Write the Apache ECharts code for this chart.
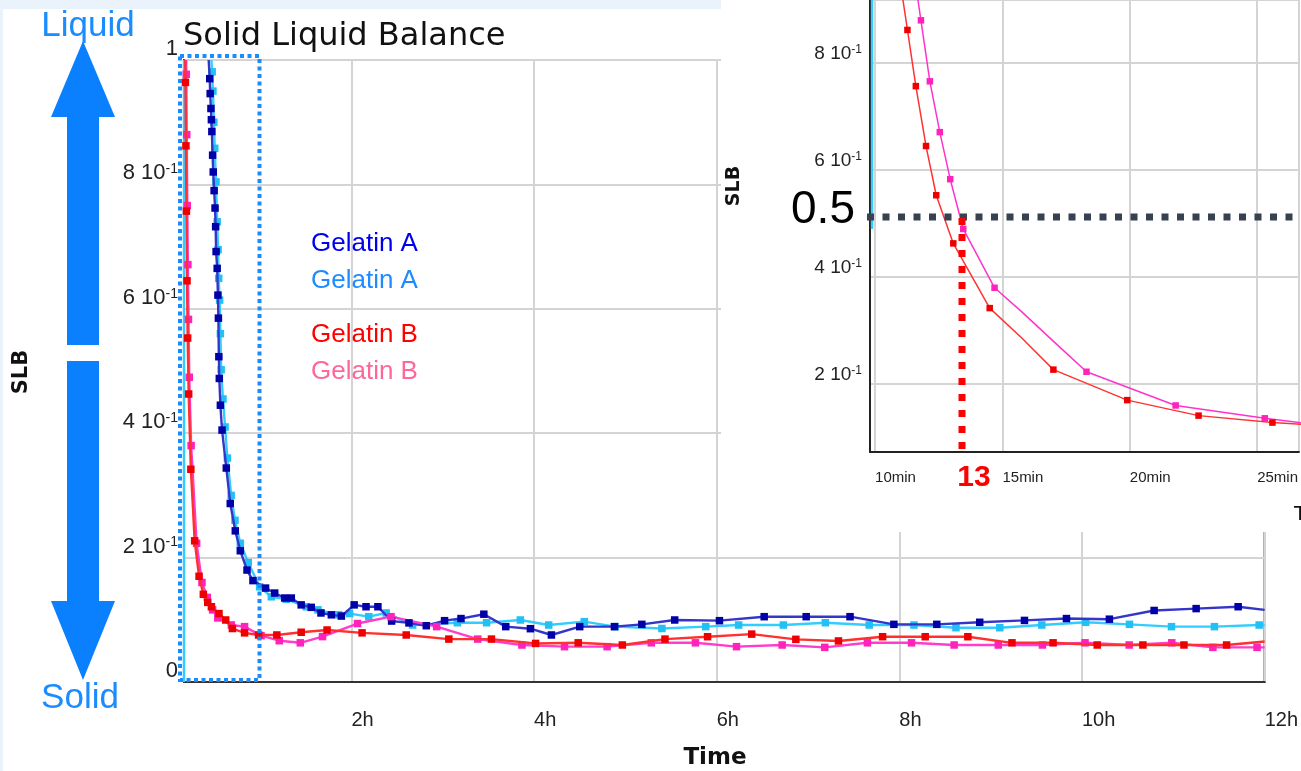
<!DOCTYPE html>
<html><head><meta charset="utf-8">
<script src="https://cdn.jsdelivr.net/npm/echarts@6/dist/echarts.min.js"></script>
<style>html,body{margin:0;padding:0;background:#fff}#c{width:1301px;height:771px}</style>
</head><body><div id="c"></div>
<script>
// ---- data: [time in minutes, SLB] ----
const gelatinA_dark = [[26.9,0.970],[27.2,0.946],[27.7,0.922],[28.0,0.904],[28.3,0.885],[28.8,0.847],[29.2,0.820],[29.8,0.790],[30.4,0.762],[30.8,0.732],[31.1,0.692],[31.8,0.665],[32.3,0.622],[32.6,0.585],[32.9,0.523],[33.2,0.488],[33.9,0.445],[35.0,0.405],[37.8,0.344],[40.4,0.287],[43.7,0.243],[47.0,0.211],[51.4,0.180],[55.3,0.163],[63.6,0.151],[69.6,0.143],[76.2,0.135],[80.5,0.135],[87,0.124],[93.6,0.120],[100,0.111],[106.8,0.108],[113.4,0.106],[121.8,0.124],[129.6,0.121],[137.4,0.121],[146.4,0.098],[157.8,0.095],[169.2,0.0905],[181.2,0.0986],[192,0.102],[207,0.109],[221.4,0.089],[237.6,0.0857],[251.4,0.0756],[270,0.089],[292.8,0.089],[310.8,0.0927],[332.4,0.0997],[361.8,0.0986],[391.2,0.105],[418.8,0.105],[447.6,0.105],[476.4,0.0927],[504.6,0.0927],[532.8,0.096],[562.2,0.099],[589.8,0.102],[618,0.101],[647.4,0.115],[675,0.118],[702.6,0.121]];
const gelatinA_light = [[28.5,0.981],[29.0,0.950],[29.6,0.900],[30.2,0.858],[31.0,0.804],[31.8,0.740],[32.4,0.695],[32.8,0.649],[33.4,0.614],[33.9,0.560],[34.4,0.502],[35.6,0.455],[37.0,0.410],[38.5,0.360],[41.0,0.300],[43.5,0.260],[47.0,0.223],[52.2,0.192],[59.7,0.153],[67.4,0.137],[77.2,0.133],[90.3,0.121],[98,0.116],[111.6,0.108],[118.8,0.110],[131.4,0.105],[142.8,0.111],[160.2,0.0916],[189.6,0.0953],[208.8,0.0953],[231,0.0997],[249.6,0.0916],[273,0.097],[293.4,0.089],[324,0.086],[352.8,0.089],[374.4,0.0916],[403.8,0.0916],[431.4,0.0953],[460.2,0.0916],[489.6,0.0916],[517.2,0.0873],[546,0.0873],[573.6,0.0916],[602.4,0.096],[631.2,0.0927],[658.8,0.089],[687,0.089],[716.4,0.0916]];
const gelatinB_red = [[10.95,0.964],[11.27,0.862],[11.6,0.757],[12.0,0.645],[12.4,0.553],[13.07,0.463],[14.5,0.342],[17.0,0.227],[19.9,0.170],[22.7,0.141],[25.6,0.128],[28.0,0.121],[33.0,0.110],[37.4,0.0997],[41.8,0.086],[49.8,0.079],[59,0.0756],[71,0.0756],[87,0.080],[104,0.0836],[127,0.079],[156,0.0756],[184,0.069],[212,0.069],[241,0.062],[269,0.063],[298,0.0595],[326,0.069],[354,0.0728],[383,0.077],[412,0.0686],[440,0.066],[469,0.0728],[497,0.0728],[525,0.0728],[554,0.063],[581,0.063],[610,0.0595],[640,0.0595],[667,0.0595],[695,0.0595]];
const gelatinB_pink = [[11.5,0.977],[11.8,0.880],[12.15,0.766],[12.54,0.671],[12.95,0.583],[13.46,0.490],[14.69,0.380],[18.3,0.223],[21.8,0.160],[25.3,0.136],[28.8,0.116],[32.2,0.103],[41.1,0.0917],[49.8,0.089],[60.6,0.0745],[72.6,0.0664],[86.4,0.063],[101,0.073],[124,0.094],[146,0.105],[176,0.089],[203,0.069],[232,0.0595],[260,0.0568],[288,0.0568],[317,0.063],[346,0.063],[373,0.0568],[403,0.0595],[431,0.0557],[459,0.063],[488,0.063],[516,0.0595],[545,0.0595],[574,0.0595],[602,0.063],[631,0.0595],[659,0.063],[686,0.0557],[715,0.0557]];
// unmarked points (line bends between markers, line ends)
const darkUnmarked = [[26.2,1.0],[720,0.116]];
const lightUnmarked = [[28.0,1.0],[720,0.0916]];
const redUnmarked = [[10.8,1.0],[15.76,0.286],[720,0.065]];
const pinkUnmarked = [[11.43,1.0],[15.76,0.335],[17.07,0.277],[720,0.0557]];
const cyanEdgeMain = [[10,1],[10,0]];
const cyanEdgeInset = [[9.88,0.918],[9.88,0.49]];
// ---- ticks / labels ----
const hourTicks = [2,4,6,8,10,12];
const minuteTicks = [10,15,20,25];
const slbTicks = [0,0.2,0.4,0.6,0.8,1];
const slbMantissa = ['0','2','4','6','8','1'];
const legendNames = ['Gelatin A','Gelatin A','Gelatin B','Gelatin B'];

const NARROW = "'Liberation Sans Narrow','Liberation Sans',Arial,sans-serif";
const SANS = "'Liberation Sans',Arial,sans-serif";

function build(marked, unmarked, toHours, size){
  const pts = marked.map(p=>({t:p[0],v:p[1],m:true})).concat(unmarked.map(p=>({t:p[0],v:p[1],m:false})));
  pts.sort((a,b)=>a.t-b.t);
  return pts.map(p=>({value:[toHours? p.t/60 : p.t, p.v], symbol: p.m ? 'rect':'none', symbolSize:size}));
}
function slbLabel(v){
  const i = slbTicks.findIndex(t=>Math.abs(t-v)<1e-6);
  if(i<0) return '';
  if(v===0 || Math.abs(v-1)<1e-6) return '{n|'+slbMantissa[i]+'}';
  return '{n|'+slbMantissa[i]+' 10}{s|-1}';
}
const chart = echarts.init(document.getElementById('c'), null, {renderer:'canvas'});
const line = (name, data, xi, lc, mc, lw, z) => ({
  name, type:'line', xAxisIndex:xi, yAxisIndex:xi, data, z,
  lineStyle:{color:lc, width:lw}, itemStyle:{color:mc}, showSymbol:true, animation:false, clip:true
});
const option = {
  animation:false,
  backgroundColor:'#ffffff',
  grid:[
    {left:184, top:60, width:1084, height:622, show:true, borderColor:'#333', borderWidth:2, backgroundColor:'#fff'},
    {left:870, top:0, width:431, height:452, show:false}
  ],
  xAxis:[
    {gridIndex:0, type:'value', min:10/60, max:12, splitNumber:6,
     axisLine:{show:true,onZero:false,lineStyle:{color:'#333',width:2}}, axisTick:{show:false},
     splitLine:{show:true,lineStyle:{color:'#d4d4d4',width:2}},
     axisLabel:{showMinLabel:false, formatter:v=>{const t=hourTicks.find(h=>Math.abs(h-v)<1e-6); return t?t+'h':'';},
       align:'left', verticalAlign:'top', margin:28, fontSize:20, fontFamily:NARROW, color:'#222'}},
    {gridIndex:1, type:'value', min:9.8, max:26.64, splitNumber:4, z:10,
     axisLine:{show:true,onZero:false,lineStyle:{color:'#222',width:2}}, axisTick:{show:false},
     splitLine:{show:true,lineStyle:{color:'#d4d4d4',width:2}},
     axisLabel:{showMinLabel:false, showMaxLabel:false, formatter:v=>{const t=minuteTicks.find(h=>Math.abs(h-v)<1e-6); return t?t+'min':'';},
       align:'left', verticalAlign:'top', margin:18, fontSize:15, fontFamily:NARROW, color:'#222'}}
  ],
  yAxis:[
    {gridIndex:0, type:'value', min:0, max:1, interval:0.2,
     axisLine:{show:true,onZero:false,lineStyle:{color:'#333',width:2}}, axisTick:{show:false},
     splitLine:{show:true,lineStyle:{color:'#d4d4d4',width:2}},
     axisLabel:{formatter:slbLabel, verticalAlign:'bottom', margin:6,
       rich:{n:{fontSize:22,fontFamily:NARROW,color:'#222'}, s:{fontSize:14,fontFamily:NARROW,color:'#222',verticalAlign:'top'}}}},
    {gridIndex:1, type:'value', min:0.073, max:0.918, splitNumber:4, z:10,
     axisLine:{show:true,onZero:false,lineStyle:{color:'#222',width:2}}, axisTick:{show:false},
     splitLine:{show:true,lineStyle:{color:'#d4d4d4',width:2}},
     axisLabel:{showMinLabel:false, showMaxLabel:false, formatter:slbLabel, verticalAlign:'bottom', margin:8,
       rich:{n:{fontSize:19,fontFamily:NARROW,color:'#222'}, s:{fontSize:12,fontFamily:NARROW,color:'#222',verticalAlign:'top'}}}}
  ],
  series:[
    {type:'line', xAxisIndex:0, yAxisIndex:0, data:cyanEdgeMain.map(p=>[p[0]/60,p[1]]), symbol:'none', lineStyle:{color:'#33ccff',width:2.5}, z:3, silent:true},
    line('Gelatin A light', build(gelatinA_light, lightUnmarked, true, 7.5), 0, '#33ccff', '#22c0f4', 2.4, 3),
    line('Gelatin A dark', build(gelatinA_dark, darkUnmarked, true, 7.5), 0, '#3535c8', '#0000a8', 2.4, 4),
    line('Gelatin B pink', build(gelatinB_pink, pinkUnmarked, true, 7.5), 0, '#ff3ccc', '#ff22bb', 2.4, 4),
    line('Gelatin B red', build(gelatinB_red, redUnmarked, true, 7.5), 0, '#ff3030', '#ee0000', 2.4, 5),
    {type:'line', xAxisIndex:1, yAxisIndex:1, data:cyanEdgeInset, symbol:'none', lineStyle:{color:'#33ccff',width:2.5}, z:12, silent:true},
    line('Gelatin B pink', build(gelatinB_pink, pinkUnmarked, false, 6.5), 1, '#ff33cc', '#ff22bb', 1.5, 12),
    line('Gelatin B red', build(gelatinB_red, redUnmarked, false, 6.5), 1, '#ff3333', '#ee0000', 1.5, 13)
  ],
  graphic:{elements:[
    {type:'rect', z:1, shape:{x:0,y:0,width:721,height:9}, style:{fill:'#eaf2fb'}},
    {type:'rect', z:1, shape:{x:0,y:0,width:3,height:771}, style:{fill:'#eaf2fb'}},
    {type:'rect', z:6, shape:{x:721,y:0,width:580,height:532}, style:{fill:'#ffffff'}},
    {type:'text', z:20, x:183, y:37, style:{text:'Solid Liquid Balance', font:"32px 'DejaVu Sans'", fill:'#111', textVerticalAlign:'middle'}},
    {type:'text', z:20, x:22, y:372, rotation:Math.PI/2, style:{text:'SLB', font:"bold 21px 'DejaVu Sans'", fill:'#111', textAlign:'center', textVerticalAlign:'middle'}},
    {type:'text', z:20, x:715, y:758, style:{text:'Time', font:"bold 23px 'DejaVu Sans'", fill:'#111', textAlign:'center', textVerticalAlign:'middle'}},
    {type:'text', z:20, x:734, y:186, rotation:Math.PI/2, style:{text:'SLB', font:"bold 19px 'DejaVu Sans'", fill:'#111', textAlign:'center', textVerticalAlign:'middle'}},
    {type:'text', z:20, x:1294, y:515, style:{text:'Time', font:"20px 'DejaVu Sans'", fill:'#111', textVerticalAlign:'middle'}},
    {type:'polygon', z:20, shape:{points:[[83,41],[115,117],[99,117],[99,345],[67,345],[67,117],[51,117]]}, style:{fill:'#0a80ff'}},
    {type:'polygon', z:20, shape:{points:[[67,361],[99,361],[99,601],[115,601],[83,680],[51,601],[67,601]]}, style:{fill:'#0a80ff'}},
    {type:'text', z:20, x:88, y:26, style:{text:'Liquid', font:'35px '+SANS, fill:'#1a8cff', textAlign:'center', textVerticalAlign:'middle'}},
    {type:'text', z:20, x:80, y:698, style:{text:'Solid', font:'35px '+SANS, fill:'#1a8cff', textAlign:'center', textVerticalAlign:'middle'}},
    {type:'rect', z:20, shape:{x:180,y:56,width:79.5,height:624}, style:{fill:null, stroke:'#1a8cff', lineWidth:4, lineDash:[4,3.5]}},
    {type:'text', z:20, x:311, y:244, style:{text:legendNames[0], font:'26px '+SANS, fill:'#0000ee', textVerticalAlign:'middle'}},
    {type:'text', z:20, x:311, y:281, style:{text:legendNames[1], font:'26px '+SANS, fill:'#1e8cff', textVerticalAlign:'middle'}},
    {type:'text', z:20, x:311, y:335, style:{text:legendNames[2], font:'26px '+SANS, fill:'#ff0000', textVerticalAlign:'middle'}},
    {type:'text', z:20, x:311, y:372, style:{text:legendNames[3], font:'26px '+SANS, fill:'#ff6699', textVerticalAlign:'middle'}},
    {type:'text', z:21, x:823, y:210, style:{text:'0.5', font:'46px '+SANS, fill:'#000', textAlign:'center', textVerticalAlign:'middle'}},
    {type:'line', z:21, shape:{x1:867,y1:217,x2:1301,y2:217}, style:{stroke:'#374151', lineWidth:7, lineDash:[7,8.5]}},
    {type:'line', z:21, shape:{x1:962,y1:218,x2:962,y2:450}, style:{stroke:'#ff0000', lineWidth:7, lineDash:[7,9]}},
    {type:'text', z:21, x:974, y:478, style:{text:'13', font:'bold 30px '+SANS, fill:'#ff0000', textAlign:'center', textVerticalAlign:'middle'}}
  ]}
};
chart.setOption(option);
</script></body></html>
